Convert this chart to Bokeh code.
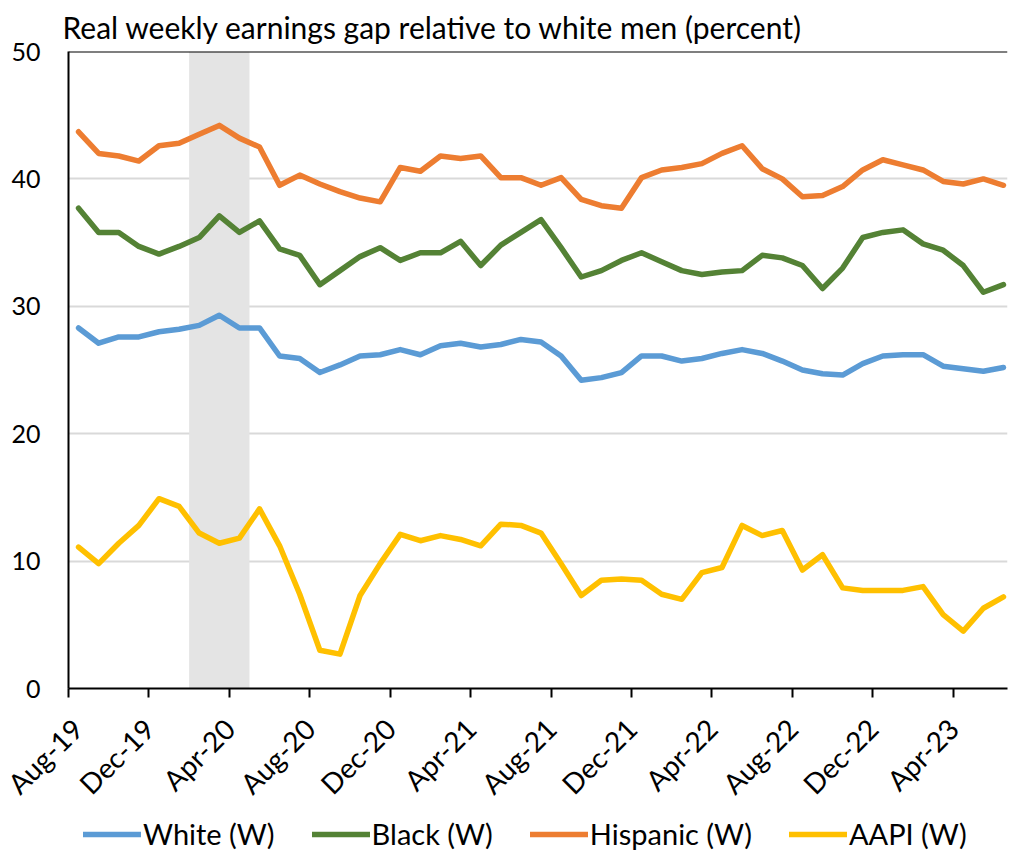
import pandas as pd
from bokeh.plotting import figure
from bokeh.layouts import column
from bokeh.models import (Range1d, FixedTicker, Span, BoxAnnotation, Legend,
                          LegendItem, Title)
from bokeh.embed import file_html
from bokeh.resources import INLINE

# ---- data (percent gap relative to white men), monthly Aug-19 .. Jun-23 ----
months = list(pd.date_range("2019-08-01", periods=47, freq="MS").strftime("%b-%y"))

white = [28.3, 27.1, 27.6, 27.6, 28.0, 28.2, 28.5, 29.3, 28.3, 28.3,
         26.1, 25.9, 24.8, 25.4, 26.1, 26.2, 26.6, 26.2, 26.9, 27.1,
         26.8, 27.0, 27.4, 27.2, 26.1, 24.2, 24.4, 24.8, 26.1, 26.1,
         25.7, 25.9, 26.3, 26.6, 26.3, 25.7, 25.0, 24.7, 24.6, 25.5,
         26.1, 26.2, 26.2, 25.3, 25.1, 24.9, 25.2]

black = [37.7, 35.8, 35.8, 34.7, 34.1, 34.7, 35.4, 37.1, 35.8, 36.7,
         34.5, 34.0, 31.7, 32.8, 33.9, 34.6, 33.6, 34.2, 34.2, 35.1,
         33.2, 34.8, 35.8, 36.8, 34.6, 32.3, 32.8, 33.6, 34.2, 33.5,
         32.8, 32.5, 32.7, 32.8, 34.0, 33.8, 33.2, 31.4, 33.0, 35.4,
         35.8, 36.0, 34.9, 34.4, 33.2, 31.1, 31.7]

hispanic = [43.7, 42.0, 41.8, 41.4, 42.6, 42.8, 43.5, 44.2, 43.2, 42.5,
            39.5, 40.3, 39.6, 39.0, 38.5, 38.2, 40.9, 40.6, 41.8, 41.6,
            41.8, 40.1, 40.1, 39.5, 40.1, 38.4, 37.9, 37.7, 40.1, 40.7,
            40.9, 41.2, 42.0, 42.6, 40.8, 40.0, 38.6, 38.7, 39.4, 40.7,
            41.5, 41.1, 40.7, 39.8, 39.6, 40.0, 39.5]

aapi = [11.1, 9.8, 11.4, 12.8, 14.9, 14.3, 12.2, 11.4, 11.8, 14.1,
        11.2, 7.4, 3.0, 2.7, 7.3, 9.8, 12.1, 11.6, 12.0, 11.7,
        11.2, 12.9, 12.8, 12.2, 9.8, 7.3, 8.5, 8.6, 8.5, 7.4,
        7.0, 9.1, 9.5, 12.8, 12.0, 12.4, 9.3, 10.5, 7.9, 7.7,
        7.7, 7.7, 8.0, 5.8, 4.5, 6.3, 7.2]

series_names = ["White (W)", "Black (W)", "Hispanic (W)", "AAPI (W)"]
series_colors = ["#5B9BD5", "#548235", "#ED7D31", "#FFC000"]
series_values = [white, black, hispanic, aapi]

recession_start = "Feb-20"
recession_end = "Apr-20"

y_ticks = [0, 10, 20, 30, 40, 50]
label_every = 4
title_text = "Real weekly earnings gap relative to white men (percent)"

FONT = "Lato"
W = 1008

# ---- main figure ----
p = figure(width=W, height=815, output_backend="svg", toolbar_location=None,
           x_range=Range1d(0, 46.7), y_range=Range1d(0, 50),
           min_border_left=68, min_border_right=1, min_border_top=49,
           min_border_bottom=127)
p.outline_line_color = None
p.background_fill_color = "white"
p.border_fill_color = "white"

t = Title(text=title_text, align="left", text_font=FONT, text_font_size="30px",
          text_font_style="normal", text_color="#000000", offset=-6, standoff=13)
p.add_layout(t, "above")

# recession shading
i0 = months.index(recession_start)
i1 = months.index(recession_end) + 1
p.add_layout(BoxAnnotation(left=i0, right=i1, fill_color="#E4E4E4",
                           fill_alpha=1.0, line_color=None, level="underlay"))

# grid
p.xgrid.visible = False
p.ygrid.ticker = FixedTicker(ticks=y_ticks[1:-1])
p.ygrid.grid_line_color = "#D9D9D9"
p.ygrid.grid_line_width = 2
p.add_layout(Span(location=y_ticks[-1], dimension="width", line_color="#000000",
                  line_width=2))

xs = [i + 0.5 for i in range(len(months))]
for name, col, vals in zip(series_names, series_colors, series_values):
    p.line(xs, vals, line_color=col, line_width=5.5, line_join="round",
           line_cap="round")

# axes
tick_pos = list(range(0, len(months), label_every))
p.xaxis.ticker = FixedTicker(ticks=tick_pos)
p.xaxis.major_label_overrides = {i: months[i] for i in tick_pos}
p.xaxis.major_label_orientation = 0.785398
p.xaxis.major_label_text_font = FONT
p.xaxis.major_label_text_font_size = "28px"
p.xaxis.major_label_text_color = "#000000"
p.xaxis.major_tick_out = 9
p.xaxis.major_tick_in = 0
p.xaxis.minor_tick_line_color = None
p.xaxis.axis_line_color = "#000000"
p.xaxis.axis_line_width = 2
p.xaxis.major_tick_line_width = 2
p.xaxis.major_tick_line_color = "#000000"
p.xaxis.major_label_standoff = 26

p.yaxis.ticker = FixedTicker(ticks=y_ticks)
p.yaxis.major_label_text_font = FONT
p.yaxis.major_label_text_font_size = "25px"
p.yaxis.major_label_text_color = "#000000"
p.yaxis.major_tick_out = 0
p.yaxis.major_tick_in = 0
p.yaxis.minor_tick_line_color = None
p.yaxis.axis_line_color = "#000000"
p.yaxis.axis_line_width = 2
p.yaxis.major_label_standoff = 28

# ---- legend strip below (series drawn off-range, only their legend shows) ----
lf = figure(width=W, height=36, output_backend="svg", toolbar_location=None,
            x_range=Range1d(0, 46.7), y_range=Range1d(100, 101), min_border=0,
            x_axis_location=None, y_axis_location=None)
lf.grid.visible = False
lf.outline_line_color = None
lf.background_fill_color = "white"
lf.border_fill_color = "white"
items = []
for name, col, vals in zip(series_names, series_colors, series_values):
    r = lf.line(xs, vals, line_color=col, line_width=5.5, line_cap="round")
    items.append(LegendItem(label=name, renderers=[r]))
legend = Legend(items=items, orientation="horizontal", location=(15, 0))
legend.label_text_font = FONT
legend.label_text_font_size = "29px"
legend.label_text_color = "#000000"
legend.glyph_width = 58
legend.glyph_height = 30
legend.label_height = 30
legend.label_standoff = 2
legend.spacing = 37
legend.border_line_color = None
legend.background_fill_alpha = 0
legend.margin = 0
legend.padding = 0
lf.add_layout(legend)

layout = column(p, lf, spacing=0)
open("out.html", "w").write(file_html(layout, INLINE))
